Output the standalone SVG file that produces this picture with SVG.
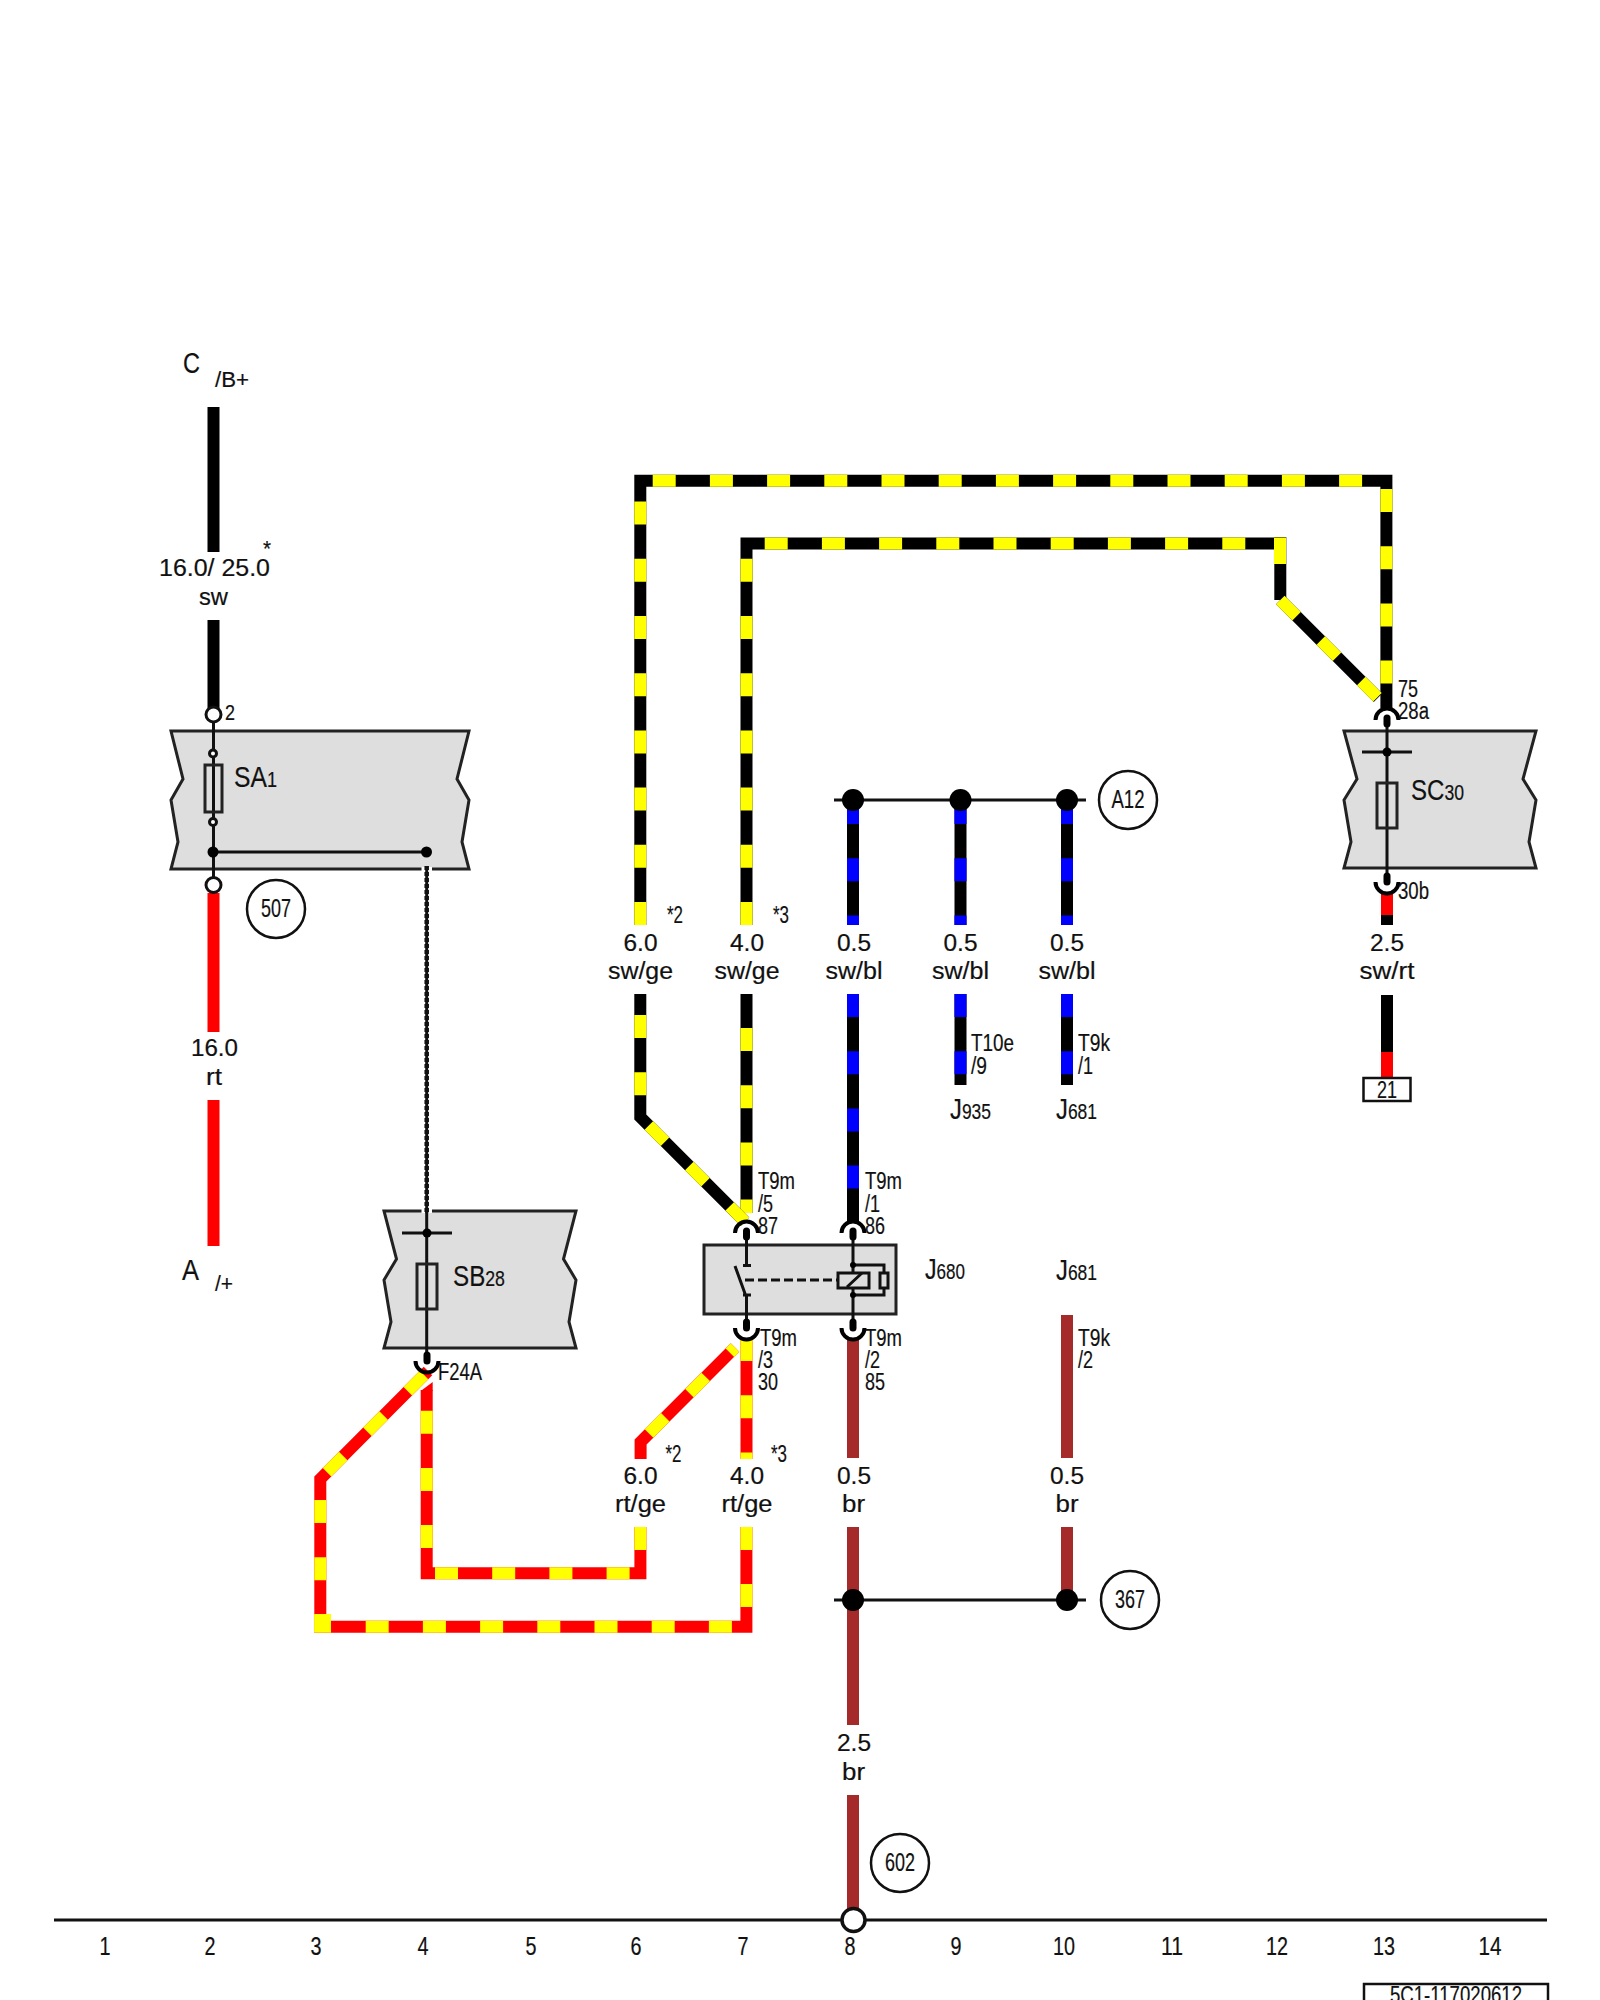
<svg xmlns="http://www.w3.org/2000/svg" width="1600" height="2000" viewBox="0 0 1600 2000">
<style>
text{font-family:"Liberation Sans",Arial,sans-serif;fill:#111;stroke:#111;stroke-width:.2;font-size:23px}
.big{font-size:30px}.mid{font-size:25px}.sm{font-size:22px}.m{text-anchor:middle}
.w{fill:none;stroke-width:12;stroke-linejoin:miter}
.k{stroke:#000}.r{stroke:#f00}.br{stroke:#a52a2a}
.y{fill:none;stroke:#ff0;stroke-width:12;stroke-dasharray:23 34.2}
.ys{fill:none;stroke:#ff0;stroke-width:12}
.b{fill:none;stroke:#00f;stroke-width:12;stroke-dasharray:23 34.2}
.l{fill:none;stroke:#111;stroke-width:3}
.box{fill:#dedede;stroke:#222;stroke-width:3}
.fuse{fill:none;stroke:#222;stroke-width:3}
.c{fill:#fff;stroke:#111;stroke-width:2.5}
.d{fill:#000}
.o{fill:#fff;stroke:#111;stroke-width:3}
</style>
<defs>
<g id="pinTop"><path d="M-11.5 0A11.5 11.5 0 0 1 11.5 0" fill="none" stroke="#000" stroke-width="4"/><path d="M0 -2V4" stroke="#000" stroke-width="7" stroke-linecap="round"/></g>
<g id="pinBot"><path d="M-11.5 0A11.5 11.5 0 0 0 11.5 0" fill="none" stroke="#000" stroke-width="4"/><path d="M0 -6V0" stroke="#000" stroke-width="7" stroke-linecap="round"/></g>
</defs>

<g id="connectors">
<path class="w k" d="M213.5 407V552M213.5 620V708"/>
<path class="w r" d="M213.5 893V1032M213.5 1100V1246"/>
<path class="w k" d="M640.3 925V480.7H1386.4V708"/>
<path class="y" d="M640.3 925V481"/>
<path class="y" d="M652.7 480.7H1380"/>
<path class="y" d="M1386.4 489V708"/>
<path class="w k" d="M746.5 925V543.5H1280"/>
<path class="y" d="M746.5 925V544"/>
<path class="y" d="M764.7 543.5H1275"/>
<path class="w k" d="M1280.3 537V600"/>
<path d="M1274 537.5H1286V564H1274Z" fill="#ff0"/>
<path class="w k" d="M1280.3 600L1378 697.7"/>
<path class="y" d="M1280.3 600L1378 697.7"/>
<path class="w k" d="M746.5 994V1213"/>
<path class="y" d="M746.5 1028V1213"/>
<path class="w k" d="M640.3 994V1117L745 1221.7"/>
<path class="y" d="M640.3 1015V1100"/>
<path class="y" d="M640.3 1117L745 1221.7" stroke-dashoffset="45.2"/>
<path class="w k" d="M853 800V925M853 994V1222"/>
<path class="b" d="M853 801V925"/><path class="b" d="M853 994V1222"/>
<path class="w k" d="M960.5 800V925M960.5 994V1085"/>
<path class="b" d="M960.5 801V925"/><path class="b" d="M960.5 994V1085"/>
<path class="w k" d="M1067 800V925M1067 994V1085"/>
<path class="b" d="M1067 801V925"/><path class="b" d="M1067 994V1085"/>
<path class="w r" d="M1387 892V915"/>
<path class="w k" d="M1387 915V925M1387 995V1052"/>
<path class="w r" d="M1387 1052V1078"/>
<path class="w r" d="M428 1371L320.3 1479V1626.7H746.4V1527"/>
<path class="y" d="M320.3 1479L428 1371" stroke-dashoffset="47.7"/>
<path class="y" d="M320.3 1500V1632"/>
<path d="M314.3 1614H331V1632.7H314.3Z" fill="#ff0"/>
<path class="y" d="M365.7 1626.7H740"/>
<path class="ys" d="M746.4 1550V1527"/>
<path class="ys" d="M746.4 1607V1584"/>
<path class="w r" d="M426.7 1390V1573.3H640.4V1527"/>
<path d="M420.7 1391L432.7 1382V1391Z" fill="#f00"/>
<path class="y" d="M426.7 1410.7V1550"/>
<path class="y" d="M435 1573.3H632"/>
<path class="ys" d="M640.4 1550V1527"/>
<path class="w r" d="M640.6 1459V1442L735 1347.6"/>
<path class="y" d="M640.6 1442L735 1347.6" stroke-dashoffset="45.3"/>
<path class="w r" d="M746.5 1338V1459"/>
<path class="y" d="M746.5 1338V1459"/>
<path class="w br" d="M853 1338V1458M853 1527V1725M853 1795V1912"/>
<path class="w br" d="M1067 1315V1458M1067 1527V1600"/>
<path class="l" d="M834 800H1086"/>
<path class="l" d="M834 1600H1086"/>
<path class="l" d="M54 1920H1547"/>
</g>

<g id="SA1">
<path class="box" d="M171 731H469L457 779L469 800L462 842L469 869H171L178 842L171 800L183 779Z"/>
<path d="M421.5 869H432" stroke="#fff" stroke-width="4"/>
<path class="l" d="M213.5 720V880M213.5 852H426.7"/>
<rect class="fuse" x="205" y="765" width="17" height="47"/>
<circle class="o" cx="213" cy="753.5" r="3.5"/><circle class="o" cx="213" cy="822" r="3.5"/>
<circle class="d" cx="213" cy="852" r="5.5"/><circle class="d" cx="426.5" cy="852" r="5.5"/>
<circle class="o" cx="213.5" cy="714.5" r="7.5"/><circle class="o" cx="213.5" cy="885" r="7.5"/>
<text x="225" y="720" class="sm" textLength="10" lengthAdjust="spacingAndGlyphs">2</text>
<text x="234" y="787" class="big" textLength="43" lengthAdjust="spacingAndGlyphs">SA<tspan class="sm">1</tspan></text>
</g>

<g id="SB28">
<path class="box" d="M384 1211H576L563.5 1259L576 1280L569 1322L576 1348H384L391 1322L384 1280L396.5 1259Z"/>
<path d="M421.5 1211H432" stroke="#fff" stroke-width="4"/>
<path class="l" d="M426.7 1211V1360M402 1233H452"/>
<circle class="d" cx="427" cy="1233" r="4.5"/>
<rect class="fuse" x="417" y="1264" width="20" height="45"/>
<use href="#pinBot" x="427" y="1361"/>
<text x="453" y="1286" class="big" textLength="52" lengthAdjust="spacingAndGlyphs">SB<tspan class="sm">28</tspan></text>
<text x="438" y="1380" textLength="44" lengthAdjust="spacingAndGlyphs">F24A</text>
</g>

<g id="link-SA1-SB28">
<path d="M426.7 866V1213" fill="none" stroke="#111" stroke-width="3"/>
<path d="M426.7 866V1213" fill="none" stroke="#111" stroke-width="4.5" stroke-dasharray="4 2"/>
</g>

<g id="SC30">
<path class="box" d="M1344 731H1536L1523 779L1536 800L1529 842L1536 868H1344L1351 842L1344 800L1357 779Z"/>
<path class="l" d="M1387 725V876M1362 752H1412"/>
<circle class="d" cx="1387" cy="752" r="4.5"/>
<rect class="fuse" x="1377" y="783" width="20" height="45"/>
<use href="#pinTop" x="1387" y="720"/><use href="#pinBot" x="1387" y="882"/>
<text x="1411" y="800" class="big" textLength="53" lengthAdjust="spacingAndGlyphs">SC<tspan class="sm">30</tspan></text>
<text x="1398" y="697" textLength="20" lengthAdjust="spacingAndGlyphs">75</text>
<text x="1398" y="719" textLength="31" lengthAdjust="spacingAndGlyphs">28a</text>
<text x="1398" y="899" textLength="31" lengthAdjust="spacingAndGlyphs">30b</text>
</g>

<g id="J680">
<rect class="box" x="704" y="1245" width="192" height="69"/>
<path class="l" d="M746.5 1235V1265M743 1265.5H751M735 1266L745.5 1295M743 1295H751M746.5 1295V1325"/>
<path d="M745 1280H838" fill="none" stroke="#111" stroke-width="3" stroke-dasharray="9 4"/>
<path class="l" d="M853 1235V1273M853 1288V1325M853 1265H884V1295H853M847 1287L862 1273"/>
<rect x="838" y="1273" width="31" height="15" fill="none" stroke="#111" stroke-width="3"/>
<rect x="880" y="1273" width="8" height="15" fill="#dedede" stroke="#111" stroke-width="3"/>
<circle class="d" cx="853" cy="1265" r="3"/><circle class="d" cx="853" cy="1295" r="3"/>
<use href="#pinTop" x="746.5" y="1233"/><use href="#pinTop" x="853" y="1233"/>
<use href="#pinBot" x="746.5" y="1328"/><use href="#pinBot" x="853" y="1328"/>
<text x="925" y="1279" class="big" textLength="40" lengthAdjust="spacingAndGlyphs">J<tspan class="sm">680</tspan></text>
<text x="758" y="1189" textLength="37" lengthAdjust="spacingAndGlyphs">T9m</text>
<text x="758" y="1212" textLength="15" lengthAdjust="spacingAndGlyphs">/5</text>
<text x="758" y="1234" textLength="20" lengthAdjust="spacingAndGlyphs">87</text>
<text x="865" y="1189" textLength="37" lengthAdjust="spacingAndGlyphs">T9m</text>
<text x="865" y="1212" textLength="15" lengthAdjust="spacingAndGlyphs">/1</text>
<text x="865" y="1234" textLength="20" lengthAdjust="spacingAndGlyphs">86</text>
<text x="760" y="1346" textLength="37" lengthAdjust="spacingAndGlyphs">T9m</text>
<text x="758" y="1368" textLength="15" lengthAdjust="spacingAndGlyphs">/3</text>
<text x="758" y="1390" textLength="20" lengthAdjust="spacingAndGlyphs">30</text>
<text x="865" y="1346" textLength="37" lengthAdjust="spacingAndGlyphs">T9m</text>
<text x="865" y="1368" textLength="15" lengthAdjust="spacingAndGlyphs">/2</text>
<text x="865" y="1390" textLength="20" lengthAdjust="spacingAndGlyphs">85</text>
</g>

<g id="terminal-C">
<text x="183" y="373" class="big" textLength="17" lengthAdjust="spacingAndGlyphs">C</text>
<text x="215" y="387" class="sm" textLength="34" lengthAdjust="spacingAndGlyphs">/B+</text>
</g>
<g id="terminal-A">
<text x="182" y="1280" class="big" textLength="17" lengthAdjust="spacingAndGlyphs">A</text>
<text x="215" y="1291" class="sm" textLength="18" lengthAdjust="spacingAndGlyphs">/+</text>
</g>

<g id="wire-labels">
<text x="214.5" y="576" class="m" textLength="111" lengthAdjust="spacingAndGlyphs">16.0/ 25.0</text>
<text x="263" y="556" class="sm" textLength="8" lengthAdjust="spacingAndGlyphs">*</text>
<text x="213.5" y="605" class="m" textLength="29" lengthAdjust="spacingAndGlyphs">sw</text>
<text x="214.5" y="1056" class="m" textLength="47" lengthAdjust="spacingAndGlyphs">16.0</text>
<text x="214" y="1085" class="m" textLength="16" lengthAdjust="spacingAndGlyphs">rt</text>
<text x="640.5" y="951" class="m" textLength="34" lengthAdjust="spacingAndGlyphs">6.0</text>
<text x="640.5" y="979" class="m" textLength="65" lengthAdjust="spacingAndGlyphs">sw/ge</text>
<text x="747" y="951" class="m" textLength="34" lengthAdjust="spacingAndGlyphs">4.0</text>
<text x="747" y="979" class="m" textLength="65" lengthAdjust="spacingAndGlyphs">sw/ge</text>
<text x="854" y="951" class="m" textLength="34" lengthAdjust="spacingAndGlyphs">0.5</text>
<text x="854" y="979" class="m" textLength="57" lengthAdjust="spacingAndGlyphs">sw/bl</text>
<text x="960.5" y="951" class="m" textLength="34" lengthAdjust="spacingAndGlyphs">0.5</text>
<text x="960.5" y="979" class="m" textLength="57" lengthAdjust="spacingAndGlyphs">sw/bl</text>
<text x="1067" y="951" class="m" textLength="34" lengthAdjust="spacingAndGlyphs">0.5</text>
<text x="1067" y="979" class="m" textLength="57" lengthAdjust="spacingAndGlyphs">sw/bl</text>
<text x="1387" y="951" class="m" textLength="34" lengthAdjust="spacingAndGlyphs">2.5</text>
<text x="1387" y="979" class="m" textLength="55" lengthAdjust="spacingAndGlyphs">sw/rt</text>
<text x="667" y="923" textLength="16" lengthAdjust="spacingAndGlyphs">*2</text>
<text x="773" y="923" textLength="16" lengthAdjust="spacingAndGlyphs">*3</text>
<text x="971" y="1051" textLength="43" lengthAdjust="spacingAndGlyphs">T10e</text>
<text x="971" y="1074" textLength="16" lengthAdjust="spacingAndGlyphs">/9</text>
<text x="1078" y="1051" textLength="32" lengthAdjust="spacingAndGlyphs">T9k</text>
<text x="1078" y="1074" textLength="15" lengthAdjust="spacingAndGlyphs">/1</text>
<text x="1078" y="1346" textLength="32" lengthAdjust="spacingAndGlyphs">T9k</text>
<text x="1078" y="1368" textLength="15" lengthAdjust="spacingAndGlyphs">/2</text>
<text x="640.5" y="1484" class="m" textLength="34" lengthAdjust="spacingAndGlyphs">6.0</text>
<text x="640.5" y="1512" class="m" textLength="51" lengthAdjust="spacingAndGlyphs">rt/ge</text>
<text x="747" y="1484" class="m" textLength="34" lengthAdjust="spacingAndGlyphs">4.0</text>
<text x="747" y="1512" class="m" textLength="51" lengthAdjust="spacingAndGlyphs">rt/ge</text>
<text x="665.5" y="1462" textLength="16" lengthAdjust="spacingAndGlyphs">*2</text>
<text x="771" y="1462" textLength="16" lengthAdjust="spacingAndGlyphs">*3</text>
<text x="854" y="1484" class="m" textLength="34" lengthAdjust="spacingAndGlyphs">0.5</text>
<text x="853.5" y="1512" class="m" textLength="23" lengthAdjust="spacingAndGlyphs">br</text>
<text x="1067" y="1484" class="m" textLength="34" lengthAdjust="spacingAndGlyphs">0.5</text>
<text x="1067" y="1512" class="m" textLength="23" lengthAdjust="spacingAndGlyphs">br</text>
<text x="854" y="1751" class="m" textLength="34" lengthAdjust="spacingAndGlyphs">2.5</text>
<text x="853.5" y="1780" class="m" textLength="23" lengthAdjust="spacingAndGlyphs">br</text>
</g>

<g id="J935"><text x="950" y="1119" class="big" textLength="41" lengthAdjust="spacingAndGlyphs">J<tspan class="sm">935</tspan></text></g>
<g id="J681-a"><text x="1056" y="1119" class="big" textLength="41" lengthAdjust="spacingAndGlyphs">J<tspan class="sm">681</tspan></text></g>
<g id="J681-b"><text x="1056" y="1280" class="big" textLength="41" lengthAdjust="spacingAndGlyphs">J<tspan class="sm">681</tspan></text></g>

<g id="junctions">
<circle class="d" cx="853" cy="800" r="11"/><circle class="d" cx="960.5" cy="800" r="11"/><circle class="d" cx="1067" cy="800" r="11"/>
<circle class="d" cx="853" cy="1600" r="11"/><circle class="d" cx="1067" cy="1600" r="11"/>
</g>
<g id="ref-507"><circle class="c" cx="276" cy="909" r="29"/><text x="276" y="917" class="mid m" textLength="30" lengthAdjust="spacingAndGlyphs">507</text></g>
<g id="ref-A12"><circle class="c" cx="1128" cy="800" r="29"/><text x="1128" y="808" class="mid m" textLength="33" lengthAdjust="spacingAndGlyphs">A12</text></g>
<g id="ref-367"><circle class="c" cx="1130" cy="1600" r="29"/><text x="1130" y="1608" class="mid m" textLength="30" lengthAdjust="spacingAndGlyphs">367</text></g>
<g id="ref-602"><circle class="c" cx="900" cy="1863" r="29"/><text x="900" y="1871" class="mid m" textLength="30" lengthAdjust="spacingAndGlyphs">602</text></g>
<g id="terminal-21"><rect x="1363.5" y="1078" width="47" height="23" fill="#fff" stroke="#111" stroke-width="2.5"/><text x="1387" y="1098" class="m" textLength="20" lengthAdjust="spacingAndGlyphs">21</text></g>
<g id="ground"><circle cx="853.5" cy="1920" r="11.5" fill="#fff" stroke="#111" stroke-width="3.5"/></g>

<g id="columns">
<text x="105" y="1955" class="m mid" textLength="11" lengthAdjust="spacingAndGlyphs">1</text>
<text x="210" y="1955" class="m mid" textLength="11" lengthAdjust="spacingAndGlyphs">2</text>
<text x="316" y="1955" class="m mid" textLength="11" lengthAdjust="spacingAndGlyphs">3</text>
<text x="423" y="1955" class="m mid" textLength="11" lengthAdjust="spacingAndGlyphs">4</text>
<text x="531" y="1955" class="m mid" textLength="11" lengthAdjust="spacingAndGlyphs">5</text>
<text x="636" y="1955" class="m mid" textLength="11" lengthAdjust="spacingAndGlyphs">6</text>
<text x="743" y="1955" class="m mid" textLength="11" lengthAdjust="spacingAndGlyphs">7</text>
<text x="850" y="1955" class="m mid" textLength="11" lengthAdjust="spacingAndGlyphs">8</text>
<text x="956" y="1955" class="m mid" textLength="11" lengthAdjust="spacingAndGlyphs">9</text>
<text x="1064" y="1955" class="m mid" textLength="22" lengthAdjust="spacingAndGlyphs">10</text>
<text x="1172" y="1955" class="m mid" textLength="22" lengthAdjust="spacingAndGlyphs">11</text>
<text x="1277" y="1955" class="m mid" textLength="22" lengthAdjust="spacingAndGlyphs">12</text>
<text x="1384" y="1955" class="m mid" textLength="22" lengthAdjust="spacingAndGlyphs">13</text>
<text x="1490" y="1955" class="m mid" textLength="23" lengthAdjust="spacingAndGlyphs">14</text>
</g>
<g id="doc-number"><rect x="1364" y="1984" width="184" height="30" fill="#fff" stroke="#111" stroke-width="2.5"/><text x="1456" y="2003" class="m" textLength="132" lengthAdjust="spacingAndGlyphs">5C1-117020612</text></g>
</svg>
